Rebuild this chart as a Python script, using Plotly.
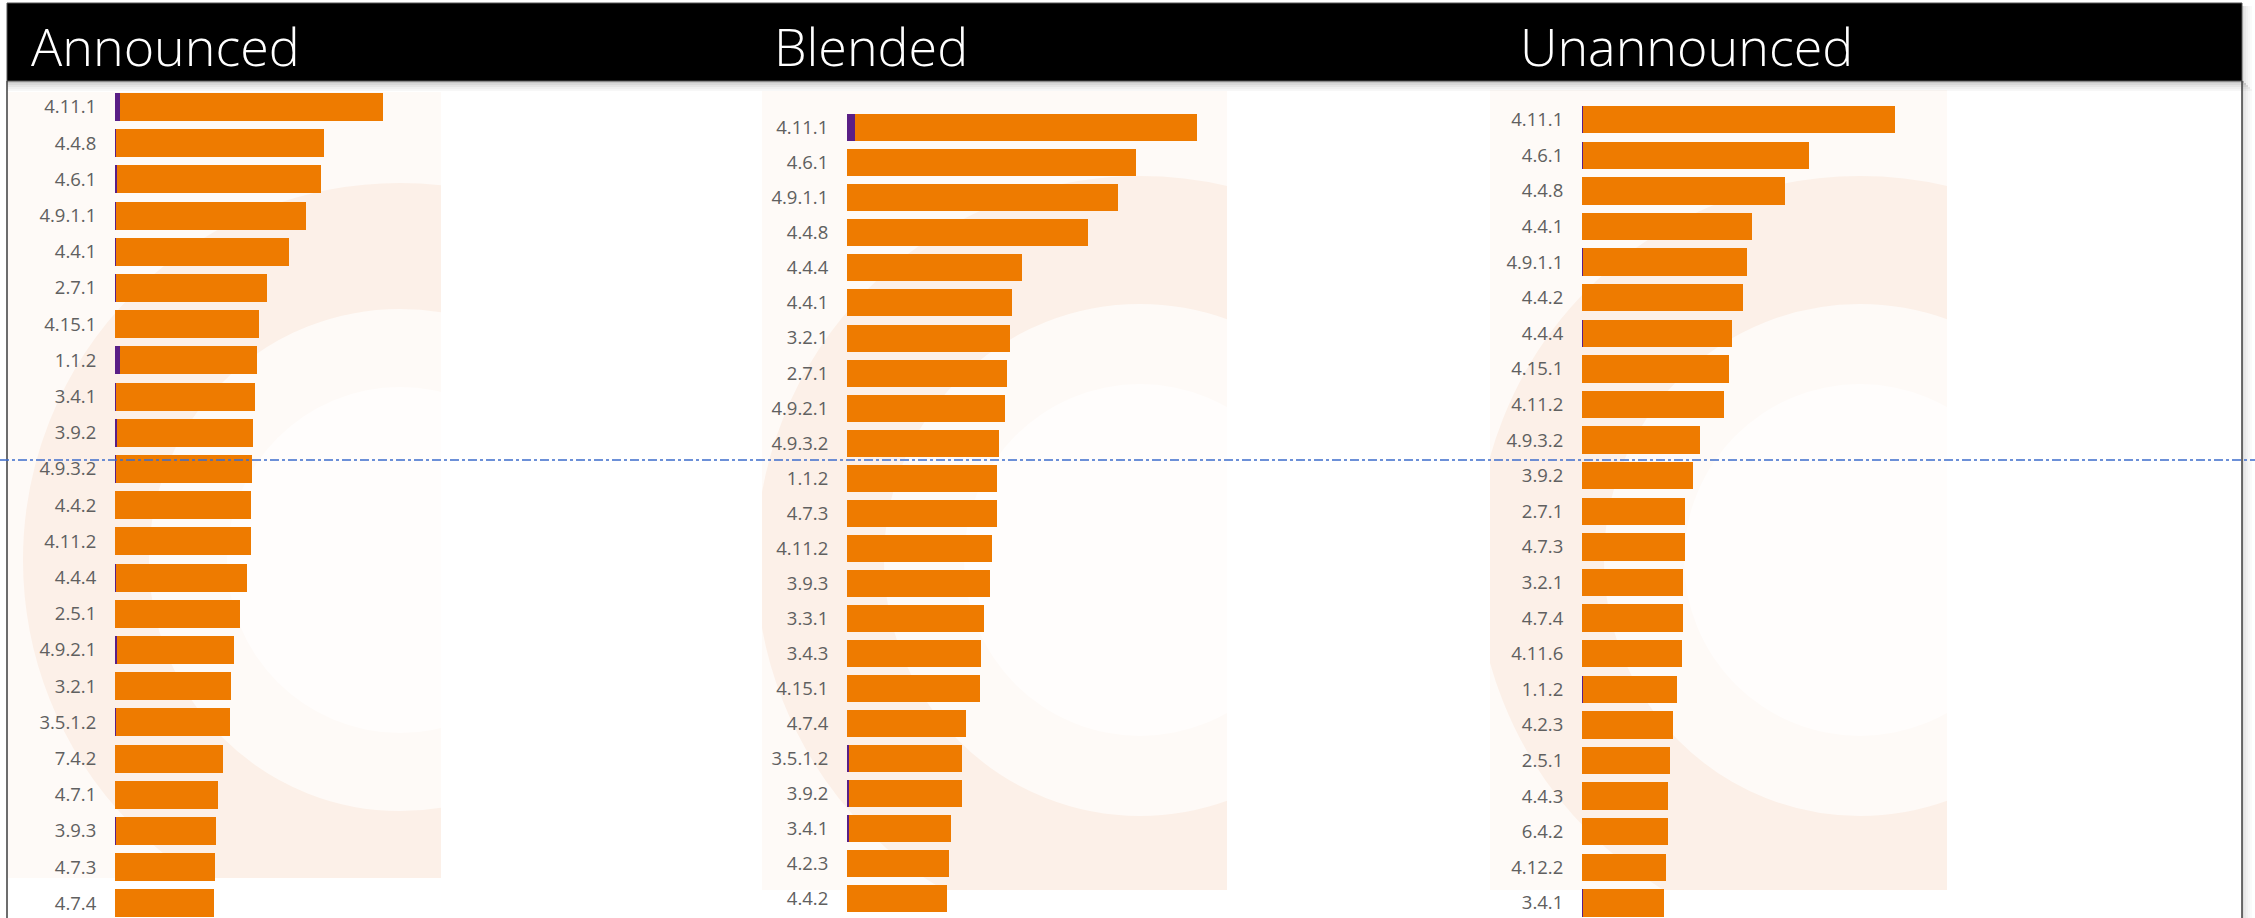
import base64
import plotly.graph_objects as go

W, H = 2255, 918

# ---------------- data ----------------
panel_titles = ["Announced", "Blended", "Unannounced"]

announced_labels = ["4.11.1", "4.4.8", "4.6.1", "4.9.1.1", "4.4.1", "2.7.1", "4.15.1", "1.1.2",
                    "3.4.1", "3.9.2", "4.9.3.2", "4.4.2", "4.11.2", "4.4.4", "2.5.1", "4.9.2.1",
                    "3.2.1", "3.5.1.2", "7.4.2", "4.7.1", "3.9.3", "4.7.3", "4.7.4"]
announced_purple = [5, 1, 1.5, 1, 1, 1, 0, 5, 1, 2, 1, 0, 0, 1, 0, 2, 0, 1, 0, 0, 1, 0, 0]
announced_orange = [263, 208, 204.5, 190, 173, 151, 144, 137, 139, 136, 136, 136, 136, 131,
                    125, 117, 116, 114, 107.5, 103, 100, 100, 99]

blended_labels = ["4.11.1", "4.6.1", "4.9.1.1", "4.4.8", "4.4.4", "4.4.1", "3.2.1", "2.7.1",
                  "4.9.2.1", "4.9.3.2", "1.1.2", "4.7.3", "4.11.2", "3.9.3", "3.3.1", "3.4.3",
                  "4.15.1", "4.7.4", "3.5.1.2", "3.9.2", "3.4.1", "4.2.3", "4.4.2"]
blended_purple = [8, 0, 0, 0, 0, 0, 0, 0, 0, 0, 0, 0, 0, 0, 0, 0, 0, 0, 2, 2, 2, 0, 0]
blended_orange = [341.6, 288.5, 271, 241, 175, 165.4, 162.5, 160, 157.7, 152.3, 150, 150, 145,
                  142.6, 136.8, 134.4, 132.5, 119.4, 113, 113, 102.3, 102, 99.5]

unann_labels = ["4.11.1", "4.6.1", "4.4.8", "4.4.1", "4.9.1.1", "4.4.2", "4.4.4", "4.15.1",
                "4.11.2", "4.9.3.2", "3.9.2", "2.7.1", "4.7.3", "3.2.1", "4.7.4", "4.11.6",
                "1.1.2", "4.2.3", "2.5.1", "4.4.3", "6.4.2", "4.12.2", "3.4.1"]
unann_purple = [1, 1, 0, 0, 1, 0, 1, 0, 0, 0, 0, 0, 0, 0, 0, 0, 1, 0, 0, 0, 0, 0, 1]
unann_orange = [311.7, 226.4, 202.7, 169.8, 164.4, 160.5, 148.9, 146.5, 141.6, 118.4, 111.1,
                102.9, 102.9, 101.4, 100.9, 99.5, 93.6, 90.7, 87.8, 86.4, 86.4, 83.5, 81]

ORANGE = "#EE7B00"
PURPLE = "#5A1F86"


def px_x(x):
    return x / W


def px_y(y):
    return 1 - y / H


# panel geometry (pixels)
panels = [
    dict(labels=announced_labels, purple=announced_purple, orange=announced_orange,
         base=115, span=330, c0=107, pitch=36.2, bh=28, title_x=29, wm=(8, 92, 441, 878),
         ring=(400, 560)),
    dict(labels=blended_labels, purple=blended_purple, orange=blended_orange,
         base=847, span=380, c0=127.7, pitch=35.05, bh=27, title_x=772, wm=(762, 91, 1227, 890),
         ring=(1140, 560)),
    dict(labels=unann_labels, purple=unann_purple, orange=unann_orange,
         base=1582, span=365, c0=119.7, pitch=35.6, bh=27.3, title_x=1518, wm=(1490, 90, 1947, 890),
         ring=(1860, 560)),
]

TOP = 86  # top of plotting area in px

fig = go.Figure()
layout_axes = {}
images = []

for i, p in enumerate(panels):
    n = i + 1
    xa = "x" if n == 1 else f"x{n}"
    ya = "y" if n == 1 else f"y{n}"
    fig.add_trace(go.Bar(
        y=p["labels"], x=p["purple"], orientation="h", marker=dict(color=PURPLE, line=dict(width=0)),
        width=p["bh"] / p["pitch"], xaxis=xa, yaxis=ya, showlegend=False, hoverinfo="x+y"))
    fig.add_trace(go.Bar(
        y=p["labels"], x=p["orange"], orientation="h", marker=dict(color=ORANGE, line=dict(width=0)),
        width=p["bh"] / p["pitch"], xaxis=xa, yaxis=ya, showlegend=False, hoverinfo="x+y"))

    top_val = -(p["c0"] - TOP) / p["pitch"]
    bot_val = top_val + (H - TOP) / p["pitch"]
    xkey = "xaxis" if n == 1 else f"xaxis{n}"
    ykey = "yaxis" if n == 1 else f"yaxis{n}"
    layout_axes[xkey] = dict(domain=[px_x(p["base"]), px_x(p["base"] + p["span"])],
                             range=[0, p["span"]], anchor=ya, visible=False, fixedrange=True)
    layout_axes[ykey] = dict(domain=[0, px_y(TOP)], anchor=xa, type="category",
                             categoryorder="array", categoryarray=p["labels"],
                             range=[bot_val, top_val], showgrid=False, zeroline=False,
                             showline=False, ticks="outside", ticklen=14,
                             tickcolor="rgba(0,0,0,0)",
                             tickfont=dict(family="Open Sans", size=18.5, color="#606060"),
                             fixedrange=True)

    # very faint watermark behind each panel
    x0, y0, x1, y1 = p["wm"]
    ww, hh = x1 - x0, y1 - y0
    cx, cy = p["ring"][0] - x0, p["ring"][1] - y0
    svg = (f"<svg xmlns='http://www.w3.org/2000/svg' width='{ww}' height='{hh}' viewBox='0 0 {ww} {hh}'>"
           f"<rect width='{ww}' height='{hh}' fill='#fefaf7'/>"
           f"<circle cx='{cx}' cy='{cy}' r='{hh*0.40:.0f}' fill='none' stroke='#fcf0e8' stroke-width='{hh*0.16:.0f}'/>"
           f"<circle cx='{cx}' cy='{cy}' r='{hh*0.22:.0f}' fill='#fffdfc'/>"
           f"</svg>")
    src = "data:image/svg+xml;base64," + base64.b64encode(svg.encode()).decode()
    images.append(dict(source=src, xref="paper", yref="paper", x=px_x(x0), y=px_y(y0),
                       sizex=ww / W, sizey=hh / H, xanchor="left", yanchor="top",
                       sizing="stretch", layer="below", opacity=1))

shapes = []
# header shadow (below and right)
for k, a in enumerate([0.22, 0.15, 0.10, 0.06, 0.03]):
    shapes.append(dict(type="rect", xref="paper", yref="paper",
                       x0=px_x(7), x1=px_x(2242 + 2 * (k + 1)),
                       y0=px_y(81 + 2 * (k + 1)), y1=px_y(81 + 2 * k),
                       fillcolor=f"rgba(0,0,0,{a})", line=dict(width=0), layer="above"))
    shapes.append(dict(type="rect", xref="paper", yref="paper",
                       x0=px_x(2242 + 2 * k), x1=px_x(2242 + 2 * (k + 1)),
                       y0=px_y(918), y1=px_y(6),
                       fillcolor=f"rgba(0,0,0,{a*0.6})", line=dict(width=0), layer="above"))
# black header band
shapes.append(dict(type="rect", xref="paper", yref="paper", x0=px_x(7), x1=px_x(2242),
                   y0=px_y(81), y1=px_y(3), fillcolor="#000000",
                   line=dict(width=1, color="#555555"), layer="above"))
# frame side lines
shapes.append(dict(type="line", xref="paper", yref="paper", x0=px_x(7), x1=px_x(7),
                   y0=px_y(81), y1=0, line=dict(color="#3c3c3c", width=1.5), layer="above"))
shapes.append(dict(type="line", xref="paper", yref="paper", x0=px_x(2242), x1=px_x(2242),
                   y0=px_y(81), y1=0, line=dict(color="#3c3c3c", width=1.5), layer="above"))
# blue dash-dot guide line
shapes.append(dict(type="line", xref="paper", yref="paper", x0=0, x1=1,
                   y0=px_y(460), y1=px_y(460), line=dict(color="#3D6CCB", width=1.3, dash="dashdot"),
                   layer="above"))

annotations = []
for p, t in zip(panels, panel_titles):
    annotations.append(dict(text=t, xref="paper", yref="paper", x=px_x(p["title_x"]), y=px_y(45),
                            xanchor="left", yanchor="middle", showarrow=False,
                            font=dict(family="Open Sans", size=52, color="white", weight=300)))

fig.update_layout(
    width=W, height=H, margin=dict(l=0, r=0, t=0, b=0),
    paper_bgcolor="white", plot_bgcolor="rgba(0,0,0,0)",
    barmode="stack", bargap=0.2, showlegend=False,
    shapes=shapes, annotations=annotations, images=images,
    **layout_axes,
)

fig.write_html("out.html", config=dict(displayModeBar=False),
               post_script="document.body.style.margin='0px';document.body.style.overflow='hidden';")
